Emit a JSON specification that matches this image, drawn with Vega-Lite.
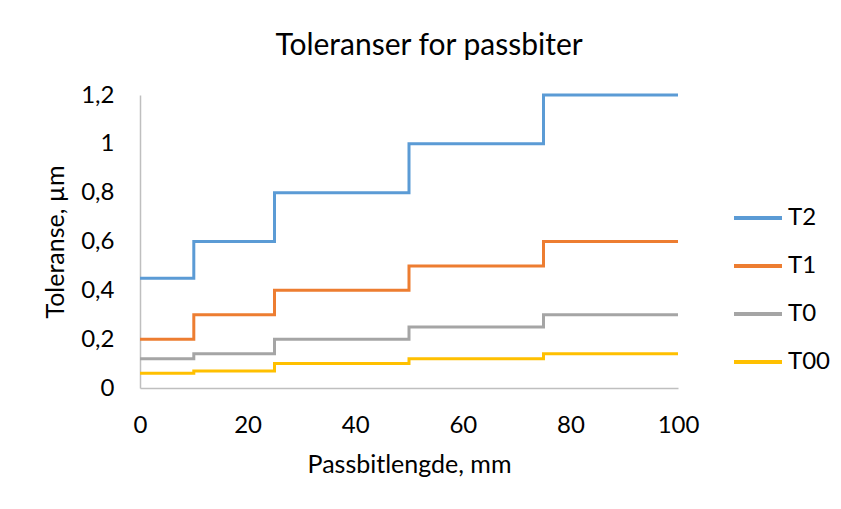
{
  "$schema": "https://vega.github.io/schema/vega-lite/v6.json",
  "width": 538,
  "height": 293,
  "autosize": {"type": "none"},
  "padding": {"left": 140, "top": 95, "right": 163, "bottom": 121},
  "background": "white",
  "title": {
    "text": "Toleranser for passbiter",
    "font": "Lato",
    "fontSize": 30,
    "fontWeight": "normal",
    "color": "#000000",
    "anchor": "middle",
    "frame": "group",
    "dx": 20,
    "baseline": "alphabetic",
    "offset": -2
  },
  "data": {
    "values": [
      {"x": 0, "s": "T2", "y": 0.45},
      {"x": 10, "s": "T2", "y": 0.6},
      {"x": 25, "s": "T2", "y": 0.8},
      {"x": 50, "s": "T2", "y": 1.0},
      {"x": 75, "s": "T2", "y": 1.2},
      {"x": 100, "s": "T2", "y": 1.2},
      {"x": 0, "s": "T1", "y": 0.2},
      {"x": 10, "s": "T1", "y": 0.3},
      {"x": 25, "s": "T1", "y": 0.4},
      {"x": 50, "s": "T1", "y": 0.5},
      {"x": 75, "s": "T1", "y": 0.6},
      {"x": 100, "s": "T1", "y": 0.6},
      {"x": 0, "s": "T0", "y": 0.12},
      {"x": 10, "s": "T0", "y": 0.14},
      {"x": 25, "s": "T0", "y": 0.2},
      {"x": 50, "s": "T0", "y": 0.25},
      {"x": 75, "s": "T0", "y": 0.3},
      {"x": 100, "s": "T0", "y": 0.3},
      {"x": 0, "s": "T00", "y": 0.06},
      {"x": 10, "s": "T00", "y": 0.07},
      {"x": 25, "s": "T00", "y": 0.1},
      {"x": 50, "s": "T00", "y": 0.12},
      {"x": 75, "s": "T00", "y": 0.14},
      {"x": 100, "s": "T00", "y": 0.14}
    ]
  },
  "mark": {"type": "line", "interpolate": "step-after", "strokeWidth": 3, "clip": false},
  "encoding": {
    "x": {
      "field": "x",
      "type": "quantitative",
      "scale": {"domain": [0, 100], "nice": false, "zero": false},
      "axis": {
        "values": [0, 20, 40, 60, 80, 100],
        "title": "Passbitlengde, mm",
        "grid": false,
        "ticks": false,
        "domainColor": "#BFBFBF",
        "domainWidth": 1.5,
        "labelFont": "Lato",
        "labelFontSize": 24,
        "labelColor": "#000000",
        "labelPadding": 25,
        "labelFlush": false,
        "titleFont": "Lato",
        "titleFontSize": 25,
        "titleFontWeight": "normal",
        "titleColor": "#000000",
        "titlePadding": 15
      }
    },
    "y": {
      "field": "y",
      "type": "quantitative",
      "scale": {"domain": [0, 1.2], "nice": false},
      "axis": {
        "values": [0, 0.2, 0.4, 0.6, 0.8, 1.0, 1.2],
        "labelExpr": "replace(format(datum.value, '.1~f'), '.', ',')",
        "title": "Toleranse, µm",
        "grid": false,
        "ticks": false,
        "domainColor": "#BFBFBF",
        "domainWidth": 1.5,
        "labelFont": "Lato",
        "labelFontSize": 24,
        "labelColor": "#000000",
        "labelPadding": 26,
        "labelFlush": false,
        "titleFont": "Lato",
        "titleFontSize": 25,
        "titleFontWeight": "normal",
        "titleColor": "#000000",
        "titlePadding": 12
      }
    },
    "color": {
      "field": "s",
      "type": "nominal",
      "scale": {"domain": ["T2", "T1", "T0", "T00"], "range": ["#5B9BD5", "#ED7D31", "#A5A5A5", "#FFC000"]},
      "legend": {
        "title": null,
        "orient": "none",
        "legendX": 592,
        "legendY": 97,
        "symbolType": "stroke",
        "symbolSize": 2304,
        "symbolStrokeWidth": 4,
        "labelFont": "Lato",
        "labelFontSize": 24,
        "labelColor": "#000000",
        "labelOffset": 4,
        "rowPadding": 10,
        "padding": 0
      }
    }
  },
  "config": {"view": {"stroke": null}}
}
